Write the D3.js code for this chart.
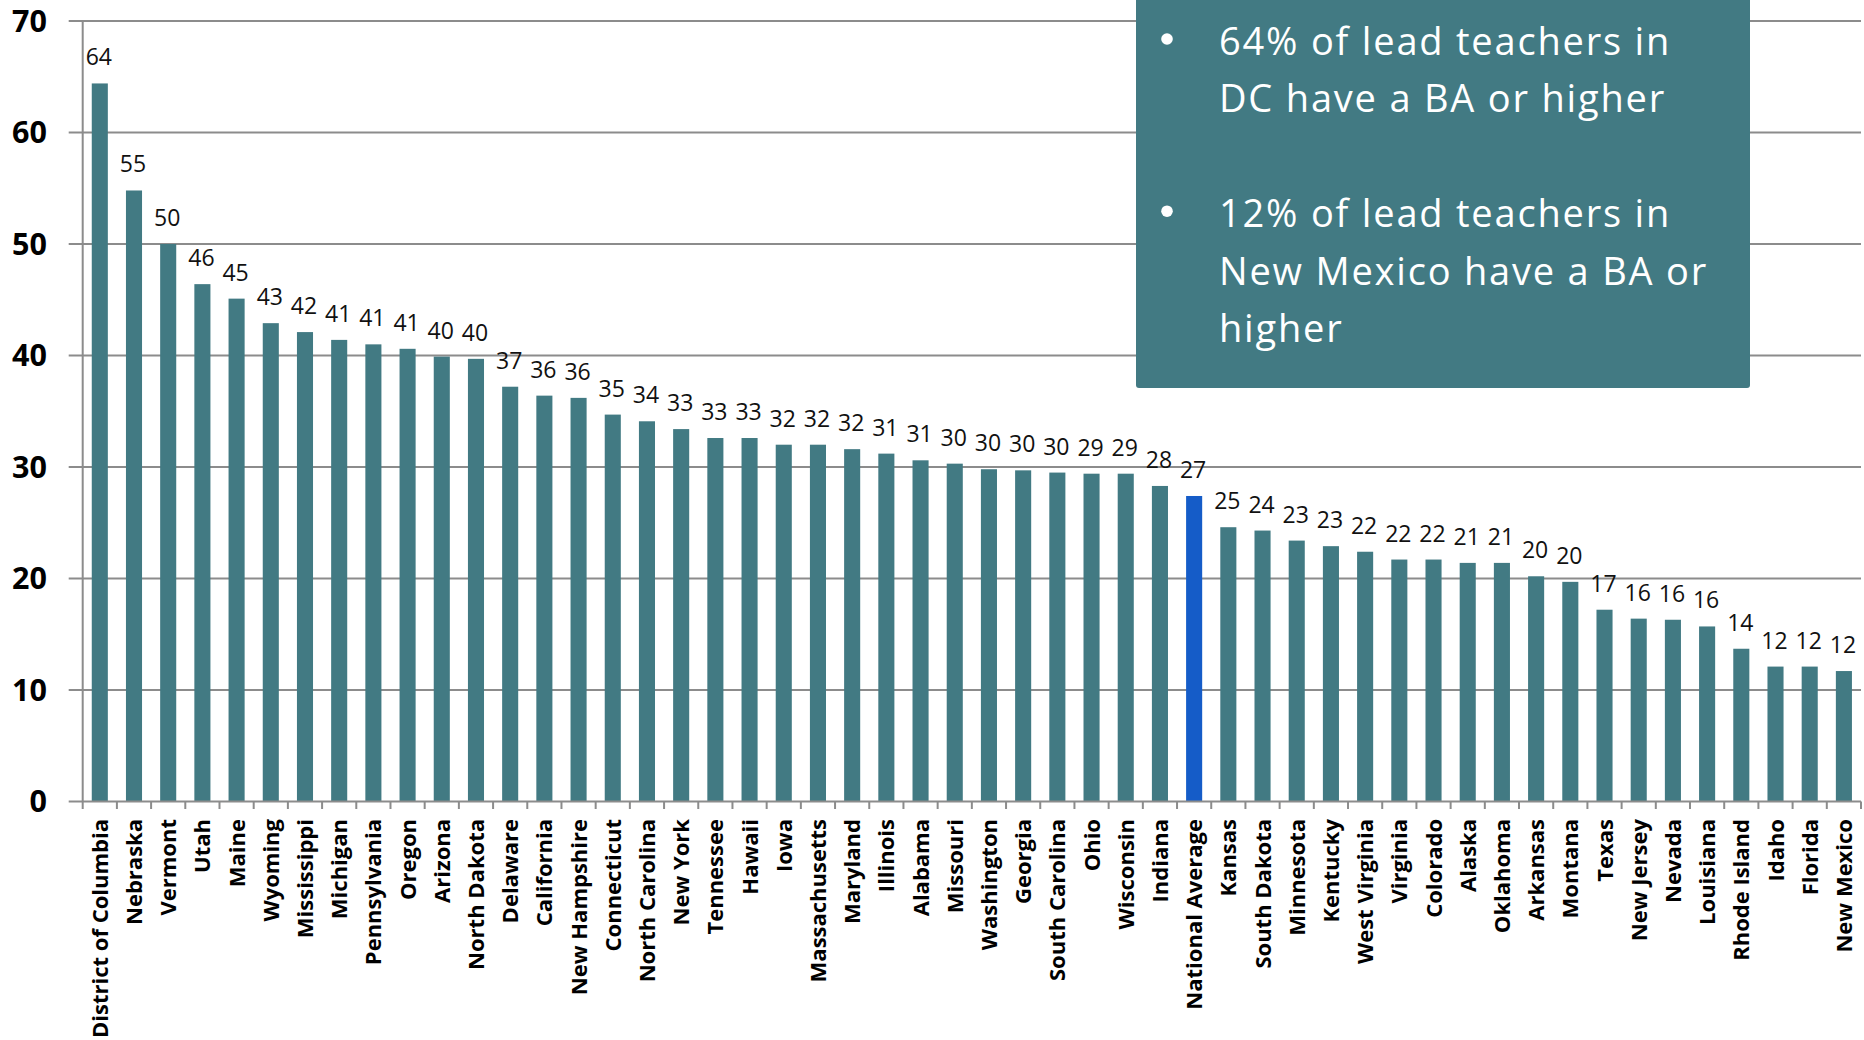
<!DOCTYPE html>
<html>
<head>
<meta charset="utf-8">
<script src="https://cdn.jsdelivr.net/npm/d3@7"></script>
<style>
  html, body { margin: 0; padding: 0; background: #ffffff; }
  svg { display: block; }
</style>
</head>
<body>
<svg id="chart" width="1864" height="1040"></svg>
<script>
const categories = ["District of Columbia","Nebraska","Vermont","Utah","Maine","Wyoming","Mississippi","Michigan","Pennsylvania","Oregon","Arizona","North Dakota","Delaware","California","New Hampshire","Connecticut","North Carolina","New York","Tennessee","Hawaii","Iowa","Massachusetts","Maryland","Illinois","Alabama","Missouri","Washington","Georgia","South Carolina","Ohio","Wisconsin","Indiana","National Average","Kansas","South Dakota","Minnesota","Kentucky","West Virginia","Virginia","Colorado","Alaska","Oklahoma","Arkansas","Montana","Texas","New Jersey","Nevada","Louisiana","Rhode Island","Idaho","Florida","New Mexico"];
const values = [64.4,54.8,50.0,46.4,45.1,42.9,42.1,41.4,41.0,40.6,39.9,39.7,37.2,36.4,36.2,34.7,34.1,33.4,32.6,32.6,32.0,32.0,31.6,31.2,30.6,30.3,29.8,29.7,29.5,29.4,29.4,28.3,27.4,24.6,24.3,23.4,22.9,22.4,21.7,21.7,21.4,21.4,20.2,19.7,17.2,16.4,16.3,15.7,13.7,12.1,12.1,11.7];
const highlight = ["National Average"];
const yTicks = [0,10,20,30,40,50,60,70];
const calloutLines = [
  {bullet: true,  text: "64% of lead teachers in"},
  {bullet: false, text: "DC have a BA or higher"},
  {bullet: false, text: ""},
  {bullet: true,  text: "12% of lead teachers in"},
  {bullet: false, text: "New Mexico have a BA or"},
  {bullet: false, text: "higher"}
];

const barColor = "#427a83";
const hiColor = "#155cc8";
const gridColor = "#8c8c8c";

const svg = d3.select("#chart");
const plotLeft = 82.7, plotRight = 1861, plotTop = 21, plotBottom = 801.5;

const x = d3.scaleBand().domain(categories).range([plotLeft, plotRight]).paddingInner(0.53).paddingOuter(0.265);
const y = d3.scaleLinear().domain([0, 70]).range([plotBottom, plotTop]);
const step = x.step();

// gridlines
svg.append("g").selectAll("line").data(yTicks.filter(d => d > 0)).join("line")
  .attr("x1", plotLeft - 14).attr("x2", plotRight)
  .attr("y1", d => y(d)).attr("y2", d => y(d))
  .attr("stroke", gridColor).attr("stroke-width", 2);

// y tick labels
svg.append("g").selectAll("text").data(yTicks).join("text")
  .attr("x", 47).attr("y", d => y(d) + 10.9)
  .attr("text-anchor", "end")
  .attr("font-family", "'Open Sans', sans-serif")
  .attr("font-weight", 700)
  .attr("font-size", 30.5)
  .attr("fill", "#000")
  .text(d => d);

// bars
svg.append("g").selectAll("rect").data(categories).join("rect")
  .attr("x", d => x(d))
  .attr("width", x.bandwidth())
  .attr("y", (d, i) => y(values[i]))
  .attr("height", (d, i) => y(0) - y(values[i]))
  .attr("fill", d => highlight.includes(d) ? hiColor : barColor);

// x axis line
svg.append("line")
  .attr("x1", plotLeft - 14).attr("x2", plotRight)
  .attr("y1", y(0)).attr("y2", y(0))
  .attr("stroke", gridColor).attr("stroke-width", 2);
// y axis line
svg.append("line")
  .attr("x1", plotLeft).attr("x2", plotLeft)
  .attr("y1", plotTop).attr("y2", y(0) + 7.5)
  .attr("stroke", gridColor).attr("stroke-width", 2);
// x ticks at category boundaries
svg.append("g").selectAll("line").data(categories).join("line")
  .attr("x1", d => x(d) + x.bandwidth() / 2 + step / 2)
  .attr("x2", d => x(d) + x.bandwidth() / 2 + step / 2)
  .attr("y1", y(0)).attr("y2", y(0) + 7.5)
  .attr("stroke", gridColor).attr("stroke-width", 2);

// value labels
svg.append("g").selectAll("text").data(categories).join("text")
  .attr("x", d => x(d) + x.bandwidth() / 2 - 1)
  .attr("y", (d, i) => y(values[i]) - 18)
  .attr("text-anchor", "middle")
  .attr("font-family", "'Open Sans', sans-serif")
  .attr("font-size", 23)
  .attr("fill", "#111")
  .text((d, i) => Math.round(values[i]));

// category labels
svg.append("g").selectAll("text").data(categories).join("text")
  .attr("transform", d => `translate(${x(d) + x.bandwidth() / 2 + 8},819) rotate(-90)`)
  .attr("text-anchor", "end")
  .attr("font-family", "'Open Sans', sans-serif")
  .attr("font-weight", 700)
  .attr("font-size", 22)
  .attr("fill", "#000")
  .text(d => d);

// callout box
const box = svg.append("g");
box.append("rect")
  .attr("x", 1136).attr("y", -6).attr("width", 614).attr("height", 394)
  .attr("rx", 3).attr("fill", barColor);
const lineH = 57.4, firstBase = 55;
calloutLines.forEach((l, i) => {
  const by = firstBase + i * lineH;
  if (l.bullet) {
    box.append("circle").attr("cx", 1167).attr("cy", by - 16).attr("r", 5.8).attr("fill", "#fff");
  }
  if (l.text) {
    box.append("text")
      .attr("x", 1219).attr("y", by)
      .attr("font-family", "'Open Sans', sans-serif")
      .attr("font-size", 38)
      .attr("letter-spacing", 1.8)
      .attr("fill", "#fff")
      .text(l.text);
  }
});
</script>
</body>
</html>
